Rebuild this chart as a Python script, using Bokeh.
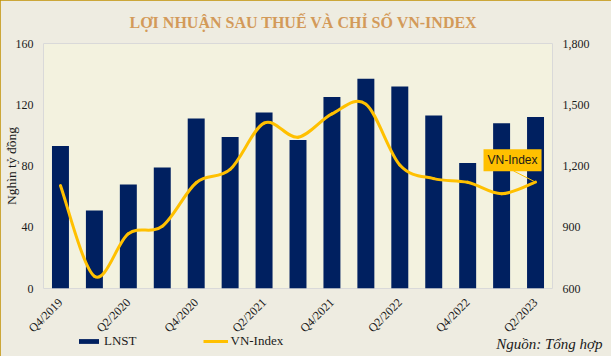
import math
from bokeh.plotting import figure
from bokeh.layouts import column
from bokeh.models import (Range1d, LinearAxis, FixedTicker, Label, Legend, LegendItem,
                          NumeralTickFormatter, ColumnDataSource, InlineStyleSheet)
from bokeh.embed import file_html
from bokeh.resources import INLINE

quarters = ["Q4/2019", "Q1/2020", "Q2/2020", "Q3/2020", "Q4/2020", "Q1/2021", "Q2/2021",
            "Q3/2021", "Q4/2021", "Q1/2022", "Q2/2022", "Q3/2022", "Q4/2022", "Q1/2023", "Q2/2023"]
lnst = [93, 51, 68, 79, 111, 99, 115, 97, 125, 137, 132, 113, 82, 108, 112]
vnindex = [1104, 660, 868, 905, 1118, 1183, 1410, 1341, 1455, 1503, 1205, 1138, 1120, 1064, 1121]
left_ticks = [0, 40, 80, 120, 160]
right_ticks = [600, 900, 1200, 1500, 1800]

xs = list(range(len(quarters)))
shown = xs[::2]

SERIF = "Liberation Serif"
TXT = "#1a1a1a"
BAR = "#002060"
LINE = "#FFC000"

p = figure(width=611, height=356, output_backend="svg", toolbar_location=None,
           x_range=Range1d(-0.5, len(quarters) - 0.5), y_range=Range1d(0, 160),
           min_border_left=43, min_border_right=59, min_border_top=43, min_border_bottom=68)
p.extra_y_ranges = {"vn": Range1d(600, 1800)}
p.background_fill_color = "#F3F2DF"
p.border_fill_color = "#EEECE1"
p.outline_line_color = "#D9D9D9"
p.outline_line_width = 1
p.xgrid.visible = False
p.ygrid.visible = False
p.styles = {"outline": "2px solid #C09000", "outline-offset": "-2px",
            "position": "relative", "z-index": "10"}
p.stylesheets = [InlineStyleSheet(css=":host { outline: 2px solid #C09000 !important; "
                                      "outline-offset: -2px !important; }")]

# title
p.title.text = "LỢI NHUẬN SAU THUẾ VÀ CHỈ SỐ VN-INDEX"
p.title.align = "left"
p.title.offset = 86
p.title.vertical_align = "middle"
p.title.standoff = 23
p.title.text_font = SERIF
p.title.text_font_size = "16px"
p.title.text_font_style = "bold"
p.title.text_color = "#D39A59"

# axes
def style_axis(ax, standoff):
    ax.axis_line_color = None
    ax.major_tick_line_color = None
    ax.minor_tick_line_color = None
    ax.major_tick_out = 0
    ax.major_tick_in = 0
    ax.minor_tick_out = 0
    ax.minor_tick_in = 0
    ax.major_label_text_font = SERIF
    ax.major_label_text_font_size = "12px"
    ax.major_label_text_color = TXT
    ax.major_label_standoff = standoff

xax = p.xaxis[0]
yax = p.yaxis[0]
style_axis(yax, 10)
yax.ticker = FixedTicker(ticks=left_ticks)
yax.axis_label = "Nghìn tỷ đồng"
yax.axis_label_text_font = SERIF
yax.axis_label_text_font_size = "13.5px"
yax.axis_label_text_font_style = "normal"
yax.axis_label_text_color = TXT
yax.axis_label_standoff = -6

style_axis(xax, 12)
xax.ticker = FixedTicker(ticks=shown)
xax.major_label_overrides = {i: quarters[i] for i in shown}
xax.major_label_orientation = math.pi / 4

ra = LinearAxis(y_range_name="vn", ticker=FixedTicker(ticks=right_ticks),
                formatter=NumeralTickFormatter(format="0,0"))
style_axis(ra, 10)
p.add_layout(ra, "right")

# bars
bar_src = ColumnDataSource(dict(x=xs, top=lnst))
bars = p.vbar(x="x", top="top", width=0.5, source=bar_src, fill_color=BAR, line_color=None)

# smoothed VN-Index line (cubic Bezier segments through the data points)
n = len(xs)
def pt(i):
    i = max(0, min(n - 1, i))
    return xs[i], vnindex[i]

bz = dict(x0=[], y0=[], x1=[], y1=[], cx0=[], cy0=[], cx1=[], cy1=[])
for i in range(n - 1):
    xa, ya = pt(i - 1)
    xb, yb = pt(i)
    xc, yc = pt(i + 1)
    xd, yd = pt(i + 2)
    bz["x0"].append(xb); bz["y0"].append(yb)
    bz["x1"].append(xc); bz["y1"].append(yc)
    bz["cx0"].append(xb + (xc - xa) / 6); bz["cy0"].append(yb + (yc - ya) / 6)
    bz["cx1"].append(xc - (xd - xb) / 6); bz["cy1"].append(yc - (yd - yb) / 6)
bz_src = ColumnDataSource(bz)
line = p.bezier(x0="x0", y0="y0", x1="x1", y1="y1", cx0="cx0", cy0="cy0", cx1="cx1", cy1="cy1",
                source=bz_src, line_color=LINE, line_width=3,
                line_cap="round", y_range_name="vn")

# callout for last point
lx, ly = xs[-1], vnindex[-1]
p.segment(x0=[lx - 0.65], y0=[ly + 55], x1=[lx], y1=[ly], line_color=LINE,
          line_width=1, y_range_name="vn")
p.add_layout(Label(x=lx, y=ly, y_range_name="vn", x_offset=-23, y_offset=22,
                   text="VN-Index", text_align="center", text_baseline="middle",
                   text_font="Liberation Sans", text_font_size="12px", text_color=TXT,
                   background_fill_color=LINE, padding=4))

# bottom strip (legend + source note), overlaid on the bottom of the chart,
# kept inside the golden outline
strip = figure(width=607, height=22, output_backend="svg", toolbar_location=None,
               x_range=Range1d(0, 607), y_range=Range1d(0, 22),
               x_axis_type=None, y_axis_type=None,
               min_border_left=0, min_border_right=0, min_border_top=0, min_border_bottom=0)
strip.grid.visible = False
strip.outline_line_color = None
strip.background_fill_alpha = 0
strip.border_fill_alpha = 0
strip.styles = {"position": "absolute", "top": "332px", "left": "2px", "z-index": "20"}
for fig in (p, strip):
    if "frame_align" in fig.properties():
        fig.frame_align = False

# legend samples use the same data and styles as the chart's series (hidden renderers)
leg_bars = strip.vbar(x="x", top="top", width=0.5, source=bar_src, fill_color=BAR,
                      line_color=None, visible=False)
leg_line = strip.bezier(x0="x0", y0="y0", x1="x1", y1="y1", cx0="cx0", cy0="cy0",
                        cx1="cx1", cy1="cy1", source=bz_src, line_color=LINE, line_width=3,
                        visible=False)
legend = Legend(items=[LegendItem(label="LNST", renderers=[leg_bars]),
                       LegendItem(label="VN-Index", renderers=[leg_line])],
                orientation="horizontal", location=(74, 5), margin=0, padding=0,
                spacing=66, glyph_width=25, glyph_height=6, label_height=12,
                label_standoff=3, background_fill_alpha=0, border_line_color=None,
                label_text_font=SERIF, label_text_font_size="13px", label_text_color=TXT,
                label_text_baseline="alphabetic")
strip.add_layout(legend, "center")
strip.add_layout(Label(x=600, y=11, x_units="screen", y_units="screen",
                       text="Nguồn: Tổng hợp", text_align="right", text_baseline="alphabetic",
                       text_font=SERIF, text_font_size="15px", text_font_style="italic",
                       text_color=TXT))

layout = column(p, strip)
open("out.html", "w").write(file_html(layout, INLINE))
